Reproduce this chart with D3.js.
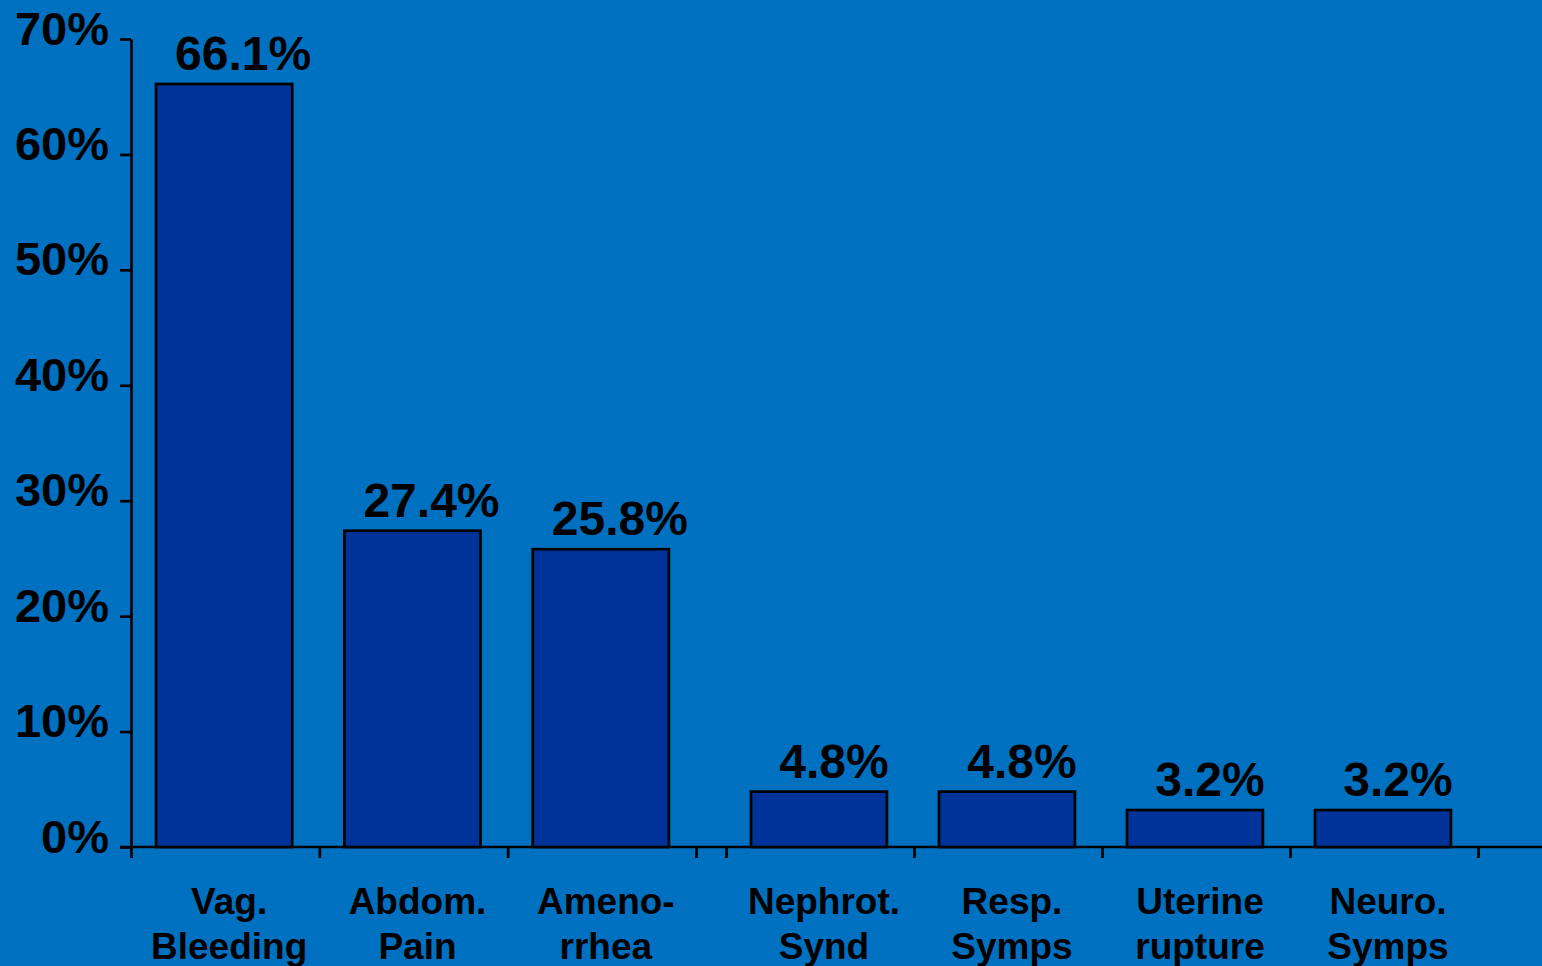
<!DOCTYPE html>
<html>
<head>
<meta charset="utf-8">
<script src="https://cdn.jsdelivr.net/npm/d3@7"></script>
<style>
  html, body { margin: 0; padding: 0; background: #0070C0; overflow: hidden; }
  svg { display: block; }
  text { font-family: "Liberation Sans", Arial, sans-serif; font-weight: bold; fill: #000; }
</style>
</head>
<body>
<svg id="chart" width="1542" height="966"></svg>
<script>
// Presenting symptoms, share of cases (%)
const categories = [
  ["Vag.", "Bleeding"],
  ["Abdom.", "Pain"],
  ["Ameno-", "rrhea"],
  ["Nephrot.", "Synd"],
  ["Resp.", "Symps"],
  ["Uterine", "rupture"],
  ["Neuro.", "Symps"]
];
const values = [66.1, 27.4, 25.8, 4.8, 4.8, 3.2, 3.2];
const valueLabels = ["66.1%", "27.4%", "25.8%", "4.8%", "4.8%", "3.2%", "3.2%"];
// the first three categories sit in one panel, the rest in a second one
const panelOf = [0, 0, 0, 1, 1, 1, 1];
const yTicks = [0, 10, 20, 30, 40, 50, 60, 70];

const W = 1542, H = 966;
const svg = d3.select("#chart");

const y = d3.scaleLinear().domain([0, 70]).range([847, 39]);

const idx = categories.map((_, i) => i);
const panels = [
  { ids: idx.filter(i => panelOf[i] === 0), range: [131, 696], labelShift: 19 },
  { ids: idx.filter(i => panelOf[i] === 1), range: [726, 1478], labelShift: 15 }
];
panels.forEach(p => {
  p.x = d3.scaleBand().domain(p.ids).range(p.range).padding(0);
  p.edge = d3.scaleLinear().domain([0, p.ids.length]).range(p.range);
});

// x axis base line across the whole width
svg.append("line")
  .attr("x1", 120).attr("x2", W)
  .attr("y1", y(0)).attr("y2", y(0))
  .attr("stroke", "#000").attr("stroke-width", 2.7);

// slot boundary ticks on the x axis
panels.forEach(p => {
  const g = svg.append("g")
    .attr("transform", `translate(0,${y(0)})`)
    .call(d3.axisBottom(p.edge)
      .tickValues(d3.range(0, p.ids.length + 1))
      .tickFormat("")
      .tickSize(11)
      .tickSizeOuter(0));
  g.select(".domain").remove();
  g.selectAll(".tick line").attr("stroke", "#000").attr("stroke-width", 2.7);
});

// y axis
const yAxis = svg.append("g")
  .attr("transform", "translate(131,0)")
  .call(d3.axisLeft(y)
    .tickValues(yTicks)
    .tickFormat(d => d + "%")
    .tickSize(11)
    .tickSizeOuter(0)
    .tickPadding(11));
yAxis.select(".domain").attr("stroke", "#000").attr("stroke-width", 2.7);
yAxis.selectAll(".tick line").attr("stroke", "#000").attr("stroke-width", 2.7);
yAxis.selectAll(".tick text")
  .attr("font-size", 47)
  .attr("font-family", "'Liberation Sans', Arial, sans-serif")
  .attr("font-weight", "bold")
  .attr("fill", "#000")
  .attr("dy", "0.32em")
  .attr("y", -10);

// bars, value labels, category labels
panels.forEach(p => {
  const bw = p.x.bandwidth();
  const barX = i => p.x(i) + bw * 0.133;
  const barW = bw * 0.723;

  svg.append("g").selectAll("rect")
    .data(p.ids)
    .join("rect")
    .attr("x", barX)
    .attr("width", barW)
    .attr("y", i => y(values[i]))
    .attr("height", i => y(0) - y(values[i]))
    .attr("fill", "#003399")
    .attr("stroke", "#000")
    .attr("stroke-width", 2.7);

  svg.append("g").selectAll("text")
    .data(p.ids)
    .join("text")
    .attr("x", i => barX(i) + barW / 2 + p.labelShift)
    .attr("y", i => y(values[i]) - 14)
    .attr("text-anchor", "middle")
    .attr("font-size", 48)
    .text(i => valueLabels[i]);

  const cat = svg.append("g").selectAll("text")
    .data(p.ids)
    .join("text")
    .attr("text-anchor", "middle")
    .attr("font-size", 37);
  cat.each(function(i) {
    const t = d3.select(this);
    categories[i].forEach((line, k) => {
      t.append("tspan")
        .attr("x", p.x(i) + bw / 2 + 4)
        .attr("y", 914 + k * 45)
        .text(line);
    });
  });
});
</script>
</body>
</html>
